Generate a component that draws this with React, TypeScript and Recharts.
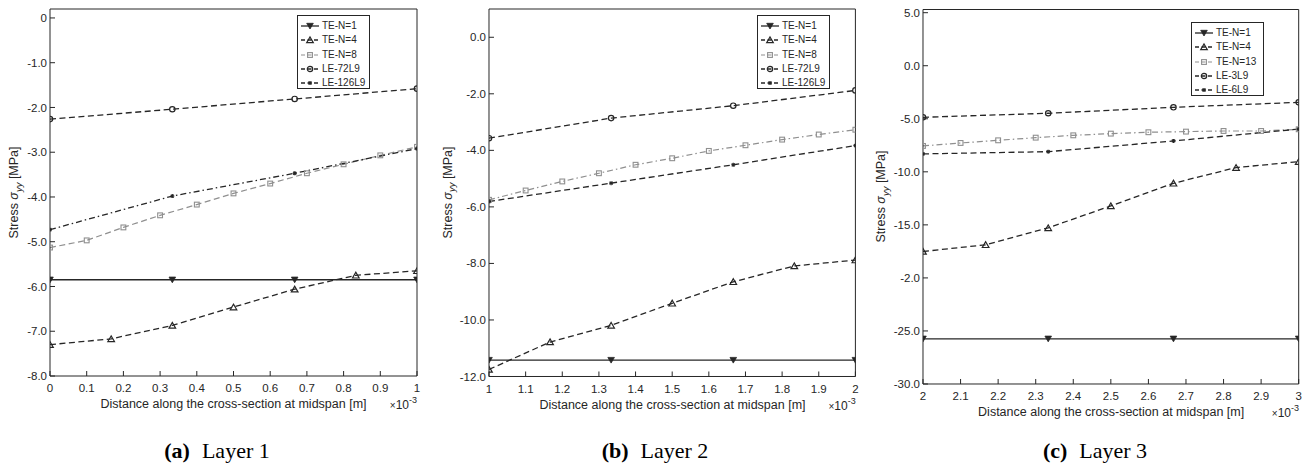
import React from 'react';
import { LineChart, Line, XAxis, YAxis, Legend } from 'recharts';

// ---------- data (x in units of 1e-3 m) ----------
const xA3 = [0, 0.3333, 0.6667, 1];
const xA6 = [0, 0.1667, 0.3333, 0.5, 0.6667, 0.8333, 1];
const xA10 = [0, 0.1, 0.2, 0.3, 0.4, 0.5, 0.6, 0.7, 0.8, 0.9, 1];
const aTE1 = [-5.85, -5.85, -5.85, -5.85];
const aTE4 = [-7.3, -7.17, -6.87, -6.46, -6.06, -5.75, -5.65];
const aTE8 = [-5.13, -4.97, -4.68, -4.41, -4.17, -3.92, -3.7, -3.47, -3.27, -3.07, -2.88];
const aLE72 = [-2.26, -2.04, -1.81, -1.58];
const aLE126 = [-4.73, -3.98, -3.47, -2.92];

const xB3 = [1, 1.3333, 1.6667, 2];
const xB6 = [1, 1.1667, 1.3333, 1.5, 1.6667, 1.8333, 2];
const xB10 = [1, 1.1, 1.2, 1.3, 1.4, 1.5, 1.6, 1.7, 1.8, 1.9, 2];
const bTE1 = [-11.42, -11.42, -11.42, -11.42];
const bTE4 = [-11.75, -10.78, -10.19, -9.41, -8.65, -8.09, -7.88];
const bTE8 = [-5.75, -5.42, -5.1, -4.81, -4.51, -4.28, -4.02, -3.82, -3.62, -3.44, -3.27];
const bLE72 = [-3.57, -2.86, -2.42, -1.88];
const bLE126 = [-5.81, -5.16, -4.51, -3.83];

const xC3 = [2, 2.3333, 2.6667, 3];
const xC6 = [2, 2.1667, 2.3333, 2.5, 2.6667, 2.8333, 3];
const xC10 = [2, 2.1, 2.2, 2.3, 2.4, 2.5, 2.6, 2.7, 2.8, 2.9, 3];
const cTE1 = [-25.74, -25.74, -25.74, -25.74];
const cTE4 = [-17.51, -16.88, -15.28, -13.21, -11.08, -9.6, -9.04];
const cTE13 = [-7.56, -7.28, -7.03, -6.78, -6.56, -6.4, -6.27, -6.21, -6.15, -6.15, -5.99];
const cLE3 = [-4.86, -4.48, -3.92, -3.45];
const cLE6 = [-8.31, -8.1, -7.09, -5.97];

// ---------- ticks ----------
const xTicksA = [0, 0.1, 0.2, 0.3, 0.4, 0.5, 0.6, 0.7, 0.8, 0.9, 1];
const xLabelsA = ['0', '0.1', '0.2', '0.3', '0.4', '0.5', '0.6', '0.7', '0.8', '0.9', '1'];
const xTicksB = [1, 1.1, 1.2, 1.3, 1.4, 1.5, 1.6, 1.7, 1.8, 1.9, 2];
const xLabelsB = ['1', '1.1', '1.2', '1.3', '1.4', '1.5', '1.6', '1.7', '1.8', '1.9', '2'];
const xTicksC = [2, 2.1, 2.2, 2.3, 2.4, 2.5, 2.6, 2.7, 2.8, 2.9, 3];
const xLabelsC = ['2', '2.1', '2.2', '2.3', '2.4', '2.5', '2.6', '2.7', '2.8', '2.9', '3'];
const yTicksA = [0, -1, -2, -3, -4, -5, -6, -7, -8];
const yLabelsA = ['0', '-1.0', '-2.0', '-3.0', '-4.0', '-5.0', '-6.0', '-7.0', '-8.0'];
const yTicksB = [0, -2, -4, -6, -8, -10, -12];
const yLabelsB = ['0.0', '-2.0', '-4.0', '-6.0', '-8.0', '-10.0', '-12.0'];
const yTicksC = [5, 0, -5, -10, -15, -20, -25, -30];
const yLabelsC = ['5.0', '0.0', '-5.0', '-10.0', '-15.0', '-2.0', '-25.0', '-30.0'];

const namesA = ['TE-N=1', 'TE-N=4', 'TE-N=8', 'LE-72L9', 'LE-126L9'];
const namesB = ['TE-N=1', 'TE-N=4', 'TE-N=8', 'LE-72L9', 'LE-126L9'];
const namesC = ['TE-N=1', 'TE-N=4', 'TE-N=13', 'LE-3L9', 'LE-6L9'];

const INK = '#262626';
const GRAY = '#8f8f8f';
const DASH = '6 3.5';
const DASHDOT = '6 3 1.5 3';

type Style = { color: string; dash?: string; width: number; marker: string };

const zip = (xs: number[], ys: number[]) => xs.map((x, i) => ({ x, y: ys[i] }));

function Marker({ type, cx, cy, color }: { type: string; cx: number; cy: number; color: string }) {
  if (cx == null || cy == null || isNaN(cx) || isNaN(cy)) return <g />;
  switch (type) {
    case 'down':
      return <path d={`M${cx - 3.3},${cy - 2.7}L${cx + 3.3},${cy - 2.7}L${cx},${cy + 3}Z`} fill={color} stroke={color} strokeWidth={0.8} />;
    case 'up':
      return <path d={`M${cx - 3.3},${cy + 2.7}L${cx + 3.3},${cy + 2.7}L${cx},${cy - 3}Z`} fill="none" stroke={color} strokeWidth={1.2} />;
    case 'square':
      return <rect x={cx - 2.4} y={cy - 2.4} width={4.8} height={4.8} fill="none" stroke={color} strokeWidth={1.1} />;
    case 'circle':
      return <circle cx={cx} cy={cy} r={2.7} fill="none" stroke={color} strokeWidth={1.2} />;
    default:
      return (
        <g stroke={color} strokeWidth={1.1}>
          <line x1={cx - 2} y1={cy} x2={cx + 2} y2={cy} />
          <line x1={cx} y1={cy - 2} x2={cx} y2={cy + 2} />
          <line x1={cx - 1.5} y1={cy - 1.5} x2={cx + 1.5} y2={cy + 1.5} />
          <line x1={cx - 1.5} y1={cy + 1.5} x2={cx + 1.5} y2={cy - 1.5} />
        </g>
      );
  }
}

function LegendBox({ names, styles }: { names: string[]; styles: Style[] }) {
  return (
    <div
      style={{
        border: `1px solid ${INK}`,
        background: '#fff',
        boxSizing: 'border-box',
        width: '100%',
        height: '100%',
        padding: '3px 0 0 0',
        fontFamily: '"Liberation Sans", Arial, sans-serif',
        fontSize: 10,
        color: INK,
      }}
    >
      {names.map((n, i) => (
        <div key={n} style={{ display: 'flex', alignItems: 'center', height: 14.3 }}>
          <svg width={20} height={12} style={{ marginLeft: 2, marginRight: 2, flex: 'none' }}>
            <line x1={1} y1={6} x2={19} y2={6} stroke={styles[i].color} strokeWidth={styles[i].width} strokeDasharray={styles[i].dash ? '4 2.5' : undefined} />
            <Marker type={styles[i].marker} cx={10} cy={6} color={styles[i].color} />
          </svg>
          <span style={{ whiteSpace: 'nowrap', lineHeight: '12px' }}>{n}</span>
        </div>
      ))}
    </div>
  );
}

type PanelProps = {
  L: number; R: number; T: number; B: number;
  xDomain: [number, number]; yDomain: [number, number];
  xTicks: number[]; xLabels: string[]; yTicks: number[]; yLabels: string[];
  series: { name: string; data: { x: number; y: number }[]; style: Style }[];
  legend: { left: number; top: number; width: number; height: number };
};

const TICK_FONT = { fontSize: 11.5, fill: INK, fontFamily: '"Liberation Sans", Arial, sans-serif' };

function Panel(p: PanelProps) {
  const YW = 50, XH = 40, MR = 4, MB = 4;
  const left = p.L - YW;
  const width = YW + (p.R - p.L) + MR + 1;
  const height = p.B + XH + MB;
  const fmt = (ticks: number[], labels: string[]) => (v: number) => {
    const i = ticks.findIndex((t) => Math.abs(t - v) < 1e-9);
    return i >= 0 ? labels[i] : '';
  };
  return (
    <div style={{ position: 'absolute', left, top: 0, width, height }}>
      <LineChart width={width} height={height} margin={{ top: p.T - 1, right: MR, bottom: MB, left: 0 }}>
        <XAxis xAxisId="b" dataKey="x" type="number" domain={p.xDomain} ticks={p.xTicks} allowDataOverflow
          height={XH} tickSize={-5} tickMargin={13} tick={TICK_FONT} tickFormatter={fmt(p.xTicks, p.xLabels)}
          stroke={INK} interval={0} />
        <XAxis xAxisId="t" orientation="top" dataKey="x" type="number" domain={p.xDomain} ticks={p.xTicks} allowDataOverflow
          height={1} tickSize={-5} tick={false} stroke={INK} interval={0} />
        <YAxis yAxisId="l" type="number" domain={p.yDomain} ticks={p.yTicks} allowDataOverflow
          width={YW} tickSize={-5} tickMargin={8} tick={TICK_FONT} tickFormatter={fmt(p.yTicks, p.yLabels)}
          stroke={INK} interval={0} />
        <YAxis yAxisId="r" orientation="right" type="number" domain={p.yDomain} ticks={p.yTicks} allowDataOverflow
          width={1} tickSize={-5} tick={false} stroke={INK} interval={0} />
        <Line xAxisId="t" yAxisId="r" data={p.series[0].data} dataKey="y" stroke="none" dot={false}
          activeDot={false} legendType="none" isAnimationActive={false} />
        {p.series.map((s) => (
          <Line
            key={s.name}
            xAxisId="b"
            yAxisId="l"
            data={s.data}
            dataKey="y"
            name={s.name}
            type="linear"
            stroke={s.style.color}
            strokeWidth={s.style.width}
            strokeDasharray={s.style.dash}
            isAnimationActive={false}
            activeDot={false}
            dot={(d: any) => <Marker key={`${s.name}-${d.index}`} type={s.style.marker} cx={d.cx} cy={d.cy} color={s.style.color} />}
          />
        ))}
        <Legend
          layout="vertical"
          align="center"
          verticalAlign="middle"
          wrapperStyle={{ position: 'absolute', left: p.legend.left - left, top: p.legend.top, width: p.legend.width, height: p.legend.height }}
          content={() => <LegendBox names={p.series.map((s) => s.name)} styles={p.series.map((s) => s.style)} />}
        />
      </LineChart>
    </div>
  );
}

const sTE1: Style = { color: INK, width: 1.3, marker: 'down' };
const sTE4: Style = { color: INK, width: 1.3, dash: DASH, marker: 'up' };
const sTE8a: Style = { color: GRAY, width: 1.2, dash: DASH, marker: 'square' };
const sTE8b: Style = { color: GRAY, width: 1.2, dash: DASHDOT, marker: 'square' };
const sLE1: Style = { color: INK, width: 1.3, dash: DASH, marker: 'circle' };
const sLE2a: Style = { color: INK, width: 1.3, dash: DASHDOT, marker: 'star' };
const sLE2b: Style = { color: INK, width: 1.3, dash: DASH, marker: 'star' };

const FONT = '"Liberation Sans", Arial, sans-serif';

function AxisTitles({ L, R, B, yx, yc, cap, capX }: { L: number; R: number; B: number; yx: number; yc: number; cap: [string, string]; capX: number }) {
  return (
    <g>
      <text transform={`translate(${yx},${yc}) rotate(-90)`} textAnchor="middle" fontSize={12.5} fill={INK} fontFamily={FONT}>
        Stress <tspan fontStyle="italic">σ</tspan>
        <tspan dy={3.5} fontSize={9.5} fontStyle="italic">yy</tspan>
        <tspan dy={-3.5}> [MPa]</tspan>
      </text>
      <text x={(L + R) / 2} y={B + 32} textAnchor="middle" fontSize={12.5} fill={INK} fontFamily={FONT}>
        Distance along the cross-section at midspan [m]
      </text>
      <text x={R} y={B + 33} textAnchor="end" fontSize={12} fill={INK} fontFamily={FONT}>
        <tspan fontSize={10}>×</tspan>10<tspan dy={-6} fontSize={9}>-3</tspan>
      </text>
      <text x={capX} y={458} textAnchor="middle" fontSize={22} fill="#000" fontFamily='"Liberation Serif", "Times New Roman", serif'>
        <tspan fontWeight="bold">{cap[0]}</tspan>
        <tspan dx={12}>{cap[1]}</tspan>
      </text>
    </g>
  );
}

export default function App() {
  const A = { L: 50, R: 417, T: 9, B: 376 };
  const Bp = { L: 489.3, R: 855.7, T: 9, B: 376.5 };
  const C = { L: 923.3, R: 1299, T: 9.5, B: 384 };
  return (
    <div style={{ position: 'absolute', left: 0, top: 0, width: 1307, height: 465, overflow: 'hidden', background: '#fff' }}>
      <Panel
        {...A}
        xDomain={[0, 1]} yDomain={[-8, 0.2]}
        xTicks={xTicksA} xLabels={xLabelsA} yTicks={yTicksA} yLabels={yLabelsA}
        legend={{ left: 297, top: 15, width: 73, height: 74 }}
        series={[
          { name: namesA[0], data: zip(xA3, aTE1), style: sTE1 },
          { name: namesA[1], data: zip(xA6, aTE4), style: sTE4 },
          { name: namesA[2], data: zip(xA10, aTE8), style: sTE8a },
          { name: namesA[3], data: zip(xA3, aLE72), style: sLE1 },
          { name: namesA[4], data: zip(xA3, aLE126), style: sLE2a },
        ]}
      />
      <Panel
        {...Bp}
        xDomain={[1, 2]} yDomain={[-12, 1]}
        xTicks={xTicksB} xLabels={xLabelsB} yTicks={yTicksB} yLabels={yLabelsB}
        legend={{ left: 757, top: 15, width: 73, height: 74 }}
        series={[
          { name: namesB[0], data: zip(xB3, bTE1), style: sTE1 },
          { name: namesB[1], data: zip(xB6, bTE4), style: sTE4 },
          { name: namesB[2], data: zip(xB10, bTE8), style: sTE8b },
          { name: namesB[3], data: zip(xB3, bLE72), style: sLE1 },
          { name: namesB[4], data: zip(xB3, bLE126), style: sLE2b },
        ]}
      />
      <Panel
        {...C}
        xDomain={[2, 3]} yDomain={[-30, 5.3]}
        xTicks={xTicksC} xLabels={xLabelsC} yTicks={yTicksC} yLabels={yLabelsC}
        legend={{ left: 1191, top: 22, width: 73, height: 74 }}
        series={[
          { name: namesC[0], data: zip(xC3, cTE1), style: sTE1 },
          { name: namesC[1], data: zip(xC6, cTE4), style: sTE4 },
          { name: namesC[2], data: zip(xC10, cTE13), style: sTE8b },
          { name: namesC[3], data: zip(xC3, cLE3), style: sLE1 },
          { name: namesC[4], data: zip(xC3, cLE6), style: sLE2b },
        ]}
      />
      <svg width={1307} height={465} style={{ position: 'absolute', left: 0, top: 0, pointerEvents: 'none' }}>
        <AxisTitles L={A.L} R={A.R} B={A.B} yx={18} yc={192.5} cap={['(a)', 'Layer 1']} capX={217} />
        <AxisTitles L={Bp.L} R={Bp.R} B={Bp.B} yx={451.5} yc={192.5} cap={['(b)', 'Layer 2']} capX={655} />
        <AxisTitles L={C.L} R={C.R} B={C.B} yx={885} yc={196.5} cap={['(c)', 'Layer 3']} capX={1095} />
      </svg>
    </div>
  );
}
